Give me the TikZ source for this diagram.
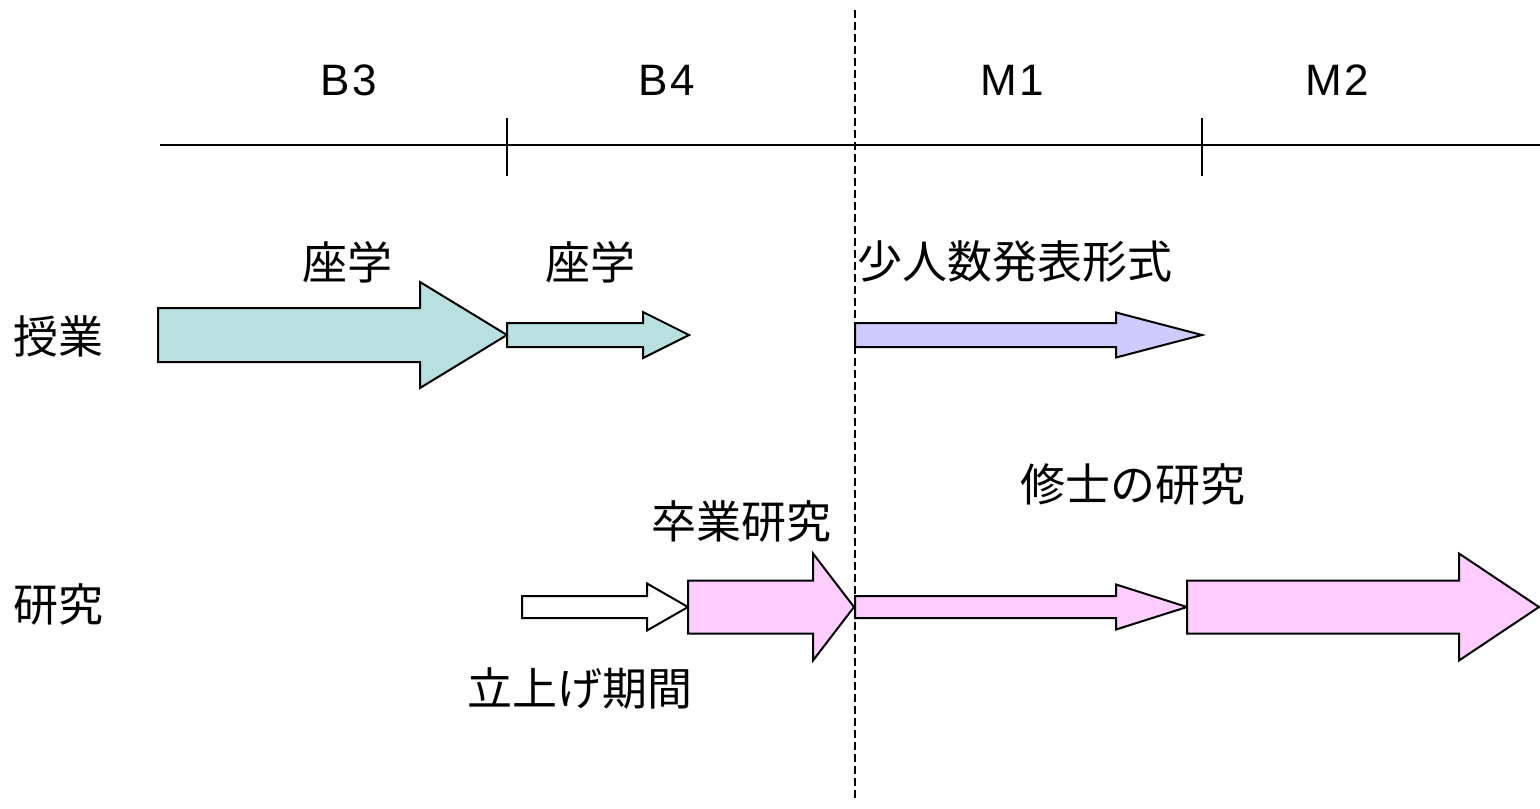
\documentclass[tikz,border=0pt]{standalone}
\usepackage{fontspec}
\setmainfont{Liberation Sans}
\newfontfamily\latfont[LetterSpace=6]{Liberation Sans}
\newfontfamily\jpfont{Noto Sans CJK JP}
\definecolor{teal1}{RGB}{185,224,224}
\definecolor{lav1}{RGB}{204,204,255}
\definecolor{pink1}{RGB}{255,204,255}
\newcommand{\fatarrow}[7]{% x0, xhead, xtip, ymid, shafthalf, headhalf, fill
  \filldraw[arrowshape, fill=#7] (#1,#4-#5) -- (#2,#4-#5) -- (#2,#4-#6) -- (#3,#4)
    -- (#2,#4+#6) -- (#2,#4+#5) -- (#1,#4+#5) -- cycle;}
\begin{document}
\begin{tikzpicture}[x=0.5pt,y=-0.5pt,
  arrowshape/.style={draw=black, line width=1pt, line join=miter},
  lat/.style={font=\latfont\fontsize{22}{26}\selectfont, inner sep=0pt},
  jp/.style={font=\jpfont\fontsize{22.5}{27}\selectfont, inner sep=0pt},
  tick/.style={line width=0.6pt},
  axis/.style={line width=1pt}]
\useasboundingbox (0,0) rectangle (1540,808);
% timeline
\coordinate (t0) at (160,145);
\coordinate (t1) at (1540,145);
\draw[axis] (t0) -- (t1);
\coordinate (k1a) at (507,118); \coordinate (k1b) at (507,176);
\coordinate (k2a) at (1202,118); \coordinate (k2b) at (1202,176);
\draw[tick] (k1a) -- (k1b);
\draw[tick] (k2a) -- (k2b);
% dashed divider
\coordinate (d0) at (855,10);
\coordinate (d1) at (855,800);
\draw[line width=0.75pt, dash pattern=on 4pt off 2pt] (d0) -- (d1);
% period labels
\node[lat] (b3) at (349,80) {B3};
\node[lat] (b4) at (667,80) {B4};
\node[lat] (m1) at (1012,80) {M1};
\node[lat] (m2) at (1337,80) {M2};
% row labels
\node[jp] (jugyo) at (58,336) {授業};
\node[jp] (kenkyu) at (58,604) {研究};
% row 1 arrows
\fatarrow{158}{420}{507}{335}{27}{53}{teal1}
\fatarrow{507}{643}{689}{335}{12}{23}{teal1}
\fatarrow{855}{1116}{1202}{335}{12}{22.5}{lav1}
% row 2 arrows
\fatarrow{522}{647}{688}{607}{11}{23.5}{white}
\fatarrow{688}{813}{854}{607}{26.5}{53.5}{pink1}
\fatarrow{855}{1116}{1187}{607}{11}{22.5}{pink1}
\fatarrow{1187}{1459}{1539}{607}{26.5}{53.5}{pink1}
% arrow labels
\node[jp] (zagaku1) at (347,262) {座学};
\node[jp] (zagaku2) at (590,262) {座学};
\node[jp, anchor=west] (shonin) at (857,262) {少人数発表形式};
\node[jp] (sotsu) at (741,521) {卒業研究};
\node[jp] (shushi) at (1133,484) {修士の研究};
\node[jp] (tachi) at (580,688) {立上げ期間};
\end{tikzpicture}
\end{document}
